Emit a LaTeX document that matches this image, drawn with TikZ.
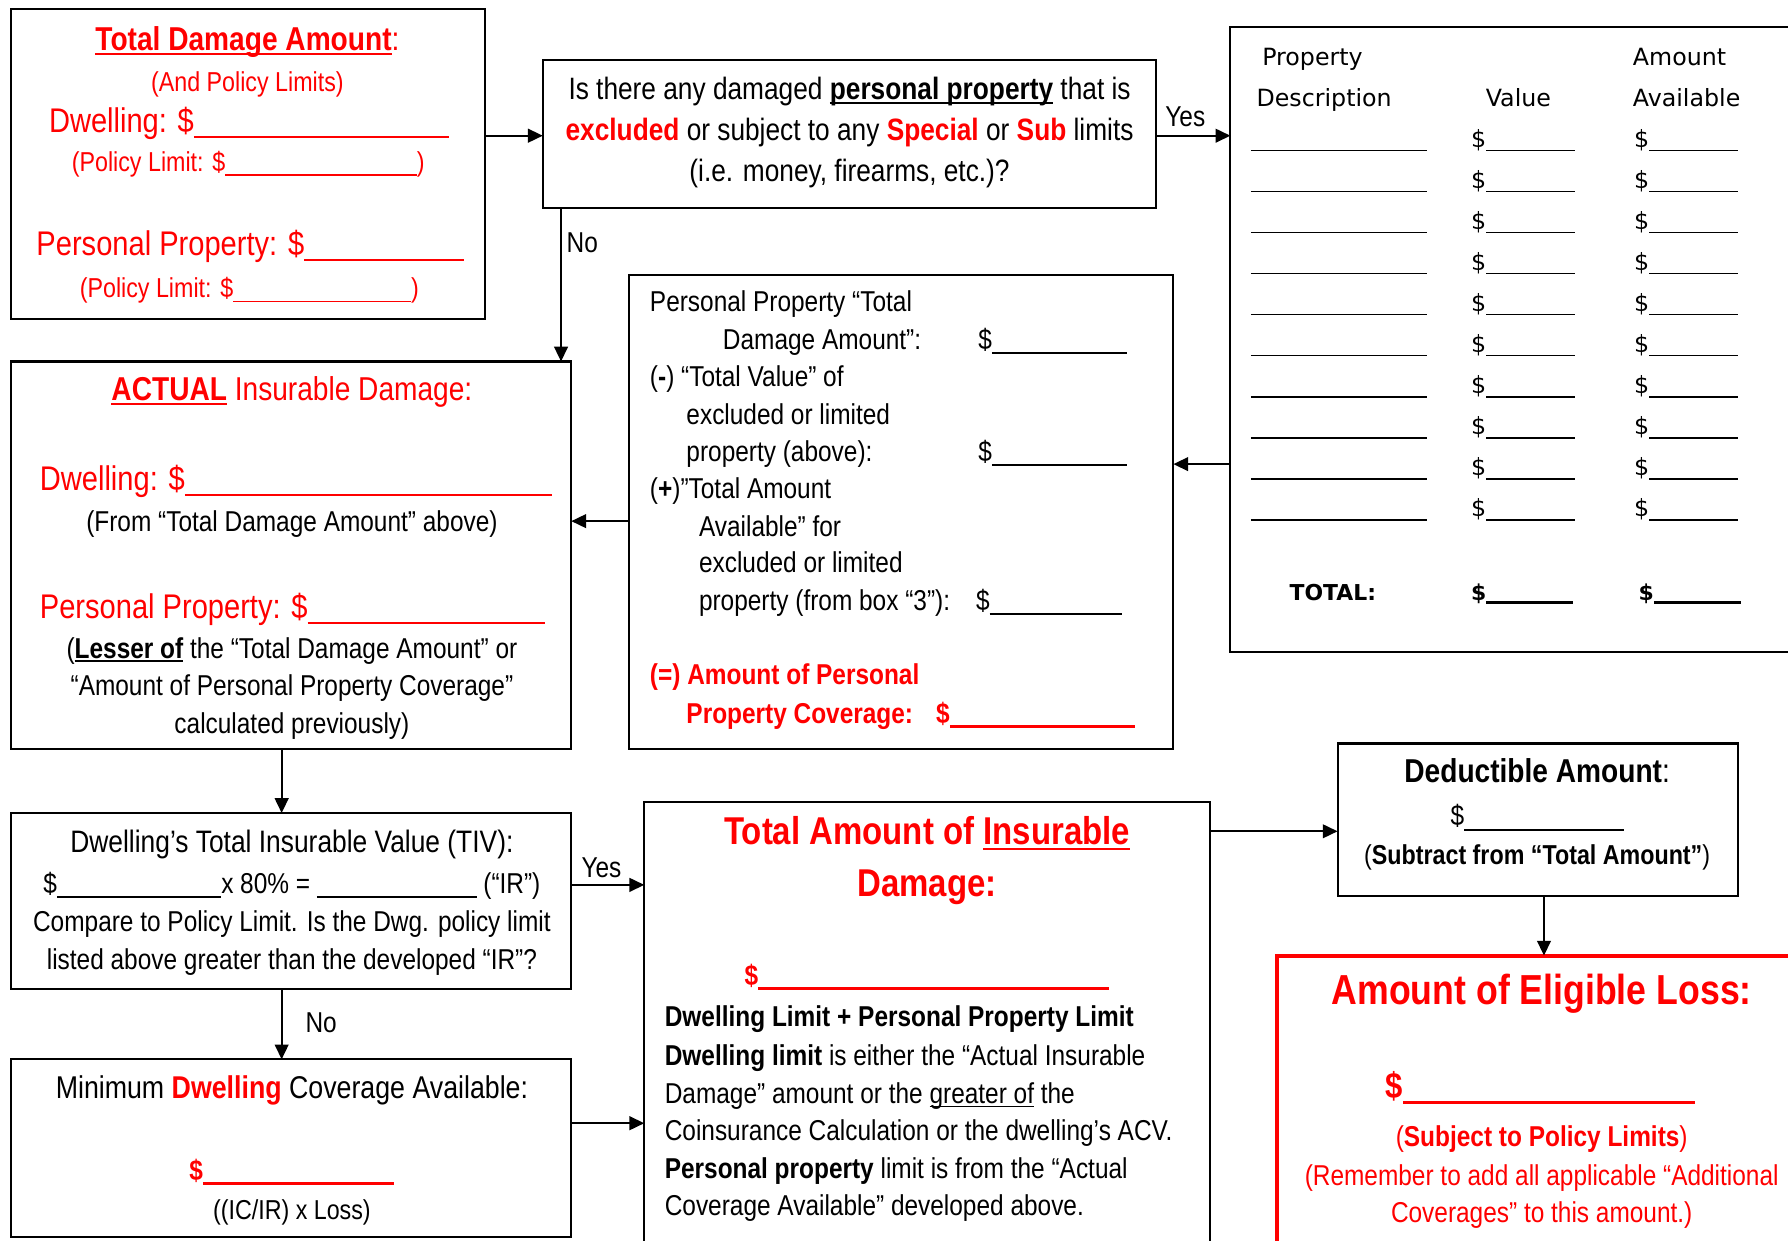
\documentclass[tikz,border=0pt]{standalone}
\usepackage{fontspec}
\setmainfont{Liberation Sans}[FakeStretch=0.85]
\newfontfamily\tabfont{DejaVu Sans}
\usetikzlibrary{arrows.meta}
\newcommand\myul[2][0.9pt]{\setbox0\hbox{#2}\leavevmode\rlap{\rule[-0.14em]{\wd0}{#1}}\box0\relax}
\newcommand\fillin[1]{\rule[-0.16em]{#1}{0.06em}}
\newcommand\fillinb[1]{\rule[-0.16em]{#1}{0.1em}}
\definecolor{rd}{RGB}{255,0,0}
\tikzset{
 every node/.style={inner sep=0pt, outer sep=0pt},
 L/.style={anchor=mid west, yshift=-1.5pt},
 C/.style={anchor=mid, yshift=-1.5pt},
 box/.style={draw, line width=0.9pt, anchor=north west},
 redbox/.style={draw=rd, line width=1.8pt, anchor=north west},
 arr/.style={line width=0.9pt, -{Triangle[length=6.5pt,width=6pt]}},
 body/.style={font=\fontsize{12.6}{15}\selectfont},
 qf/.style={font=\fontsize{13.55}{16}\selectfont},
 big/.style={font=\fontsize{15}{18}\selectfont},
 sm/.style={font=\fontsize{12}{14}\selectfont},
 ttl/.style={font=\fontsize{14.5}{17}\selectfont},
 hd/.style={font=\fontsize{17}{20}\selectfont\bfseries},
 hdl/.style={font=\fontsize{18.4}{22}\selectfont\bfseries},
 tab/.style={font=\tabfont\fontsize{10.4}{12}\selectfont},
 tabb/.style={font=\tabfont\fontsize{9.6}{12}\selectfont\bfseries},
 rt/.style={text=rd},
}
\begin{document}
\begin{tikzpicture}[x=0.5pt,y=-0.5pt]
\useasboundingbox (0,0) rectangle (1568,1088);
\clip (0,0) rectangle (1568,1088);
\fill[white] (0,0) rectangle (1568,1088);

% boxes
\node[box, minimum width=207.5pt, minimum height=136pt] (b1) at (10,8) {};
\node[box, minimum width=269pt, minimum height=64.5pt] (b2) at (476,53) {};
\node[box, minimum width=270pt, minimum height=274pt] (b3) at (1079,24) {};
\node[box, minimum width=238.5pt, minimum height=208pt] (b4) at (552,241) {};
\node[box, minimum width=245.5pt, minimum height=170pt] (b5) at (10,317) {};
\node[box, minimum width=245.5pt, minimum height=77pt] (b6) at (10,713) {};
\node[box, minimum width=245.5pt, minimum height=78pt] (b7) at (10,929) {};
\node[box, minimum width=248pt, minimum height=215pt] (b8) at (565,703) {};
\node[box, minimum width=175.5pt, minimum height=67pt] (b9) at (1173,652) {};
\node[redbox, minimum width=245pt, minimum height=160pt] (b10) at (1120,838) {};

% connectors
\draw[arr] (b1.east |- 0,119) -- (b2.west |- 0,119);
\draw[arr] (b2.east |- 0,119) -- (b3.west |- 0,119);
\draw[arr] (b2.south -| 492,0) -- (b5.north -| 492,0);
\draw[arr] (b3.west |- 0,407) -- (b4.east |- 0,407);
\draw[arr] (b4.west |- 0,457) -- (b5.east |- 0,457);
\draw[arr] (b5.south -| 247,0) -- (b6.north -| 247,0);
\draw[arr] (b6.south -| 247,0) -- (b7.north -| 247,0);
\draw[arr] (b6.east |- 0,776) -- (b8.west |- 0,776);
\draw[arr] (b7.east |- 0,985) -- (b8.west |- 0,985);
\draw[arr] (b8.east |- 0,729) -- (b9.west |- 0,729);
\draw[arr] (b9.south -| 1354,0) -- (b10.north -| 1354,0);

% connector labels
\node[L, body] (y1) at (1022,103) {Yes};
\node[L, body] (n1) at (497,213) {No};
\node[L, body] (y2) at (510,761) {Yes};
\node[L, body] (n2) at (268,897) {No};

% box 1
\node[C, ttl, rt] (t1a) at (217,36) {\textbf{\myul{Total Damage Amount}}:};
\node[C, sm, rt] (t1b) at (217,72) {(And Policy Limits)};
\node[L, big, rt] (t1c) at (43,108) {Dwelling: \$\fillin{112pt}};
\node[L, sm, rt] (t1d) at (63,142) {(Policy Limit: \$\fillin{84pt})};
\node[L, big, rt] (t1e) at (32,216) {Personal Property: \$\fillin{70pt}};
\node[L, sm, rt] (t1f) at (70,253) {(Policy Limit: \$\fillin{78pt})};

% box 2
\node[C, qf] (t2a) at (745,79) {Is there any damaged \textbf{\myul{personal property}} that is};
\node[C, qf] (t2b) at (745,115) {\textcolor{rd}{\textbf{excluded}} or subject to any \textcolor{rd}{\textbf{Special}} or \textcolor{rd}{\textbf{Sub}} limits};
\node[C, qf] (t2c) at (745,151) {(i.e. money, firearms, etc.)?};

% box 3 (table)
\node[L, tab] (h1) at (1107,49) {Property};
\node[L, tab] (h2) at (1102,85) {Description};
\node[L, tab] (h3) at (1303,85) {Value};
\node[L, tab] (h4) at (1432,49) {Amount};
\node[L, tab] (h5) at (1432,85) {Available};
\foreach \yy in {121,157,193,229,265,301,337,373,409,445}{
  \node[L, tab] (ra\yy) at (1097,\yy) {\fillin{77pt}};
  \node[L, tab] (rb\yy) at (1290,\yy) {\$\fillin{39pt}};
  \node[L, tab] (rc\yy) at (1433,\yy) {\$\fillin{39pt}};
}
\node[L, tabb] (tt1) at (1131,518) {TOTAL:};
\node[L, tabb] (tt2) at (1290,518) {\$\fillinb{38pt}};
\node[L, tabb] (tt3) at (1437,518) {\$\fillinb{38pt}};

% box 4
\node[L, body] (t4a) at (570,265) {Personal Property “Total};
\node[L, body] (t4b) at (634,298) {Damage Amount”:};
\node[L, body] (t4c) at (858,298) {\$\fillin{59pt}};
\node[L, body] (t4d) at (570,331) {(\textbf{-}) “Total Value” of};
\node[L, body] (t4e) at (602,364) {excluded or limited};
\node[L, body] (t4f) at (602,396) {property (above):};
\node[L, body] (t4g) at (858,396) {\$\fillin{59pt}};
\node[L, body] (t4h) at (570,429) {(\textbf{+})”Total Amount};
\node[L, body] (t4i) at (613,462) {Available” for};
\node[L, body] (t4j) at (613,494) {excluded or limited};
\node[L, body] (t4k) at (613,527) {property (from box “3”):};
\node[L, body] (t4l) at (856,527) {\$\fillin{58pt}};
\node[L, body, rt] (t4m) at (570,592) {\textbf{(=) Amount of Personal}};
\node[L, body, rt] (t4n) at (602,626) {\textbf{Property Coverage:}};
\node[L, body, rt] (t4o) at (821,626) {\textbf{\$}\fillinb{81pt}};

% box 5
\node[C, ttl, rt] (t5a) at (256,343) {\textbf{\myul{ACTUAL}} Insurable Damage:};
\node[L, big, rt] (t5b) at (35,422) {Dwelling: \$\fillin{161pt}};
\node[C, body] (t5c) at (256,458) {(From “Total Damage Amount” above)};
\node[L, big, rt] (t5d) at (35,534) {Personal Property: \$\fillin{104pt}};
\node[C, body] (t5e) at (256,569) {(\textbf{\myul{Lesser of}} the “Total Damage Amount” or};
\node[C, body] (t5f) at (256,602) {“Amount of Personal Property Coverage”};
\node[C, body] (t5g) at (256,635) {calculated previously)};

% box 6
\node[C, body, font=\fontsize{13.6}{16}\selectfont] (t6a) at (256,739) {Dwelling’s Total Insurable Value (TIV):};
\node[C, body] (t6b) at (256,775) {\$\fillin{72pt}x 80\% = \fillin{70pt} (“IR”)};
\node[C, body] (t6c) at (256,809) {Compare to Policy Limit. Is the Dwg. policy limit};
\node[C, body] (t6d) at (256,842) {listed above greater than the developed “IR”?};

% box 7
\node[C, body, font=\fontsize{13.8}{16}\selectfont] (t7a) at (256,955) {Minimum \textcolor{rd}{\textbf{Dwelling}} Coverage Available:};
\node[C, body, rt] (t7b) at (256,1027) {\textbf{\$}\fillinb{84pt}};
\node[C, body, font=\fontsize{12}{14}\selectfont] (t7c) at (256,1061) {((IC/IR) x Loss)};

% box 8
\node[C, hd, rt] (t8a) at (813,732) {Total Amount of \myul{Insurable}};
\node[C, hd, rt] (t8b) at (813,778) {Damage:};
\node[C, body, rt] (t8c) at (813,856) {\textbf{\$}\fillinb{154pt}};
\node[L, body] (t8d) at (583,892) {\textbf{Dwelling Limit + Personal Property Limit}};
\node[L, body] (t8e) at (583,926) {\textbf{Dwelling limit} is either the “Actual Insurable};
\node[L, body] (t8f) at (583,959) {Damage” amount or the \myul[0.5pt]{greater of} the};
\node[L, body] (t8g) at (583,992) {Coinsurance Calculation or the dwelling’s ACV.};
\node[L, body] (t8h) at (583,1025) {\textbf{Personal property} limit is from the “Actual};
\node[L, body] (t8i) at (583,1058) {Coverage Available” developed above.};

% box 9
\node[C, ttl] (t9a) at (1348,678) {\textbf{Deductible Amount}:};
\node[C, body] (t9b) at (1348,716) {\$\fillin{70pt}};
\node[C, sm] (t9c) at (1348,750) {(\textbf{Subtract from “Total Amount”})};

% box 10
\node[C, hdl, rt] (t10a) at (1352,873) {Amount of Eligible Loss:};
\node[C, rt, font=\fontsize{16}{18}\selectfont] (t10b) at (1351,955) {\textbf{\$}\fillinb{128pt}};
\node[C, body, rt] (t10c) at (1352,997) {(\textbf{Subject to Policy Limits})};
\node[C, body, rt] (t10d) at (1352,1031) {(Remember to add all applicable “Additional};
\node[C, body, rt] (t10e) at (1352,1064) {Coverages” to this amount.)};
\end{tikzpicture}
\end{document}
